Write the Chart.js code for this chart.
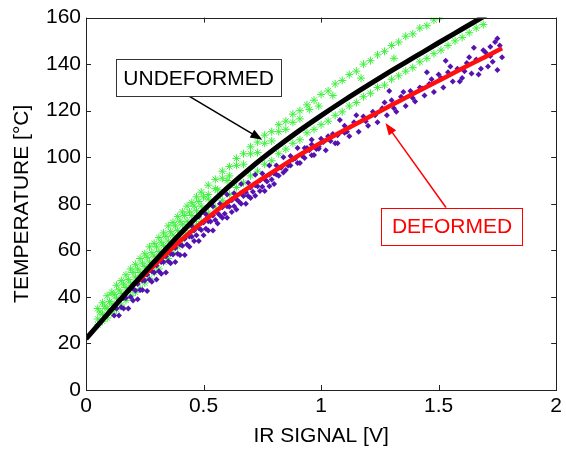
<!DOCTYPE html>
<html>
<head>
<meta charset="utf-8">
<script src="https://cdn.jsdelivr.net/npm/chart.js@4.4.1/dist/chart.umd.min.js"></script>
<style>
  html, body { margin: 0; padding: 0; background: #fff; }
</style>
</head>
<body>
<canvas id="chart" width="566" height="455"></canvas>
<script>
// Fitted curves
const undefFitX = [0, 0.1, 0.2, 0.3, 0.4, 0.5, 0.6, 0.7, 0.8, 0.9, 1.0, 1.1, 1.2, 1.3, 1.4, 1.5, 1.6, 1.7];
const undefFitY = [22, 33.6, 45, 56.2, 67, 77.2, 86.7, 95.4, 103.4, 110.9, 117.9, 124.6, 131, 137.2, 143.2, 149.2, 155.1, 161];
const defFitX = [0.22, 0.3, 0.4, 0.5, 0.6, 0.7, 0.8, 0.9, 1.0, 1.1, 1.2, 1.3, 1.4, 1.5, 1.6, 1.7, 1.77];
const defFitY = [46.5, 54.5, 64, 72.5, 80.5, 87.5, 94, 100.5, 106.2, 111.7, 117.1, 122.4, 127.7, 132.9, 138.1, 143.2, 146.8];

// Measured points, undeformed specimen (green crosses)
const undefUpper = [[0.05,35],[0.07,37.5],[0.09,40.5],[0.11,42],[0.13,45],[0.15,47],[0.17,49.5],[0.19,52],[0.21,54],[0.23,56.5],[0.25,58.5],[0.27,61.5],[0.29,63],[0.31,65.5],[0.33,67.5],[0.35,70.5],[0.37,72],[0.39,74.5],[0.41,76.5],[0.43,79],[0.45,80.5],[0.47,83],[0.49,85],[0.52,88],[0.55,90.5],[0.58,94],[0.61,96],[0.64,99.5],[0.67,101.5],[0.70,104.5],[0.73,106.5],[0.76,109.5],[0.79,111],[0.82,114],[0.85,115.5],[0.88,118.5],[0.91,120],[0.94,122.5],[0.97,124.5],[1.00,127],[1.03,128.5],[1.06,131.5],[1.09,133],[1.12,135.5],[1.15,137],[1.18,140],[1.21,141.5],[1.24,144],[1.27,145.5],[1.30,148],[1.33,149.5],[1.36,152],[1.39,153],[1.42,155.5],[1.45,156.5],[1.48,159],[1.51,160.5]];
const undefInner = [[0.06,33.5],[0.08,36],[0.10,38],[0.12,41],[0.14,43],[0.16,45.5],[0.18,47.5],[0.20,50.5],[0.22,52],[0.24,54.5],[0.26,57],[0.28,59],[0.30,61.5],[0.32,63.5],[0.34,66],[0.36,68],[0.38,70.5],[0.40,72.5],[0.42,75],[0.44,76.5],[0.46,79],[0.48,81],[0.50,83],[0.52,84],[0.55,86.5],[0.58,91],[0.61,92],[0.64,96.5],[0.67,97],[0.70,101.5],[0.73,102],[0.76,106],[0.79,107],[0.82,111],[0.85,112],[0.88,115],[0.91,116.5],[0.95,120.5],[0.99,122],[1.05,126.5],[1.17,134],[1.31,142.5]];
const undefMid = [[0.05,30.5],[0.07,32.5],[0.09,35],[0.11,37],[0.13,39.5],[0.15,41.5],[0.17,44],[0.19,46],[0.21,48.5],[0.23,50.5],[0.25,53],[0.27,55],[0.29,57.5],[0.31,59.5],[0.33,62],[0.35,64],[0.37,66.5],[0.39,68.5],[0.41,71],[0.43,72.5],[0.45,75],[0.47,77],[0.49,79],[0.52,82],[0.56,86],[0.60,90]];
const undefLower = [[0.05,28],[0.07,29.5],[0.09,31],[0.11,33],[0.13,34.5],[0.15,36.5],[0.17,38.5],[0.19,40.5],[0.21,42],[0.23,43.5],[0.25,46],[0.27,48],[0.29,50.5],[0.31,52],[0.33,55],[0.35,56.5],[0.37,59],[0.39,61.5],[0.41,64.5],[0.43,67],[0.45,68.5],[0.47,71],[0.49,72.5],[0.52,76],[0.55,78.5],[0.58,81.5],[0.61,84],[0.64,87],[0.67,89],[0.70,92],[0.73,94],[0.76,97],[0.79,98.5],[0.82,101.5],[0.85,103.5],[0.88,106],[0.91,107.5],[0.94,110.5],[0.97,112],[1.00,114],[1.03,115.5],[1.06,118],[1.09,119.5],[1.12,122],[1.15,123.5],[1.18,126],[1.21,127.5],[1.24,130],[1.27,131],[1.30,133.5],[1.33,135],[1.36,137],[1.39,138.5],[1.42,141],[1.45,142.5],[1.48,144.5],[1.51,146],[1.54,148],[1.57,150],[1.60,151.5],[1.63,153.5],[1.66,155.5],[1.69,157]];

// Measured points, deformed specimen (purple dots)
const defRowA = [[0.12,32],[0.14,32],[0.16,35],[0.18,35],[0.20,38.5],[0.22,39],[0.24,43],[0.26,42.5],[0.28,46.5],[0.30,47.5],[0.32,50],[0.34,50.5],[0.36,54.5],[0.38,55],[0.40,58],[0.42,58],[0.44,61.5],[0.46,64],[0.48,64],[0.50,66.5],[0.52,68.5],[0.54,68.5],[0.56,71.5],[0.58,74],[0.60,74],[0.62,76.5],[0.64,77.5],[0.66,80],[0.68,80],[0.70,82.5],[0.72,83.5],[0.74,85.5],[0.76,85.5],[0.78,87.5],[0.80,88.5]];
const defRowB = [[0.13,35],[0.15,35.5],[0.17,39.5],[0.19,40],[0.21,42.8],[0.23,43],[0.25,47],[0.27,47.5],[0.29,50.5],[0.31,51],[0.33,55],[0.35,55.3],[0.37,58.2],[0.39,58.5],[0.41,62],[0.43,62.5],[0.45,65.8],[0.47,66.5],[0.49,68.7],[0.51,69.3],[0.53,72.4],[0.55,73],[0.57,75],[0.59,75.7],[0.61,78.7],[0.63,79],[0.65,81],[0.67,83.4],[0.69,83.3],[0.71,85.2],[0.73,87.5],[0.75,87.3],[0.77,89.6],[0.79,90.4],[0.81,92.6],[0.84,93.5],[0.87,96.5],[0.90,97.5],[0.93,99.7],[0.96,100.9],[0.99,103.6]];
const defRowC = [[0.12,35.5],[0.14,38.5],[0.16,39.5],[0.18,42.5],[0.20,43.5],[0.22,45.5],[0.24,47],[0.26,49.5],[0.28,51],[0.30,53.5],[0.32,55],[0.34,57.5],[0.36,58.5],[0.38,61],[0.40,62.5],[0.42,65],[0.44,66],[0.46,68.5],[0.48,69.5],[0.50,72],[0.52,72.5],[0.54,75],[0.56,76],[0.58,78.5],[0.60,79],[0.62,81.5],[0.64,82],[0.66,84.5],[0.68,85],[0.70,87],[0.72,88],[0.74,90],[0.76,90.5],[0.78,92.5],[0.80,93],[0.83,95.5],[0.86,96.5],[0.89,99.5],[0.92,100.5],[0.95,103],[0.98,103.5],[1.01,106.5],[1.04,107],[1.07,109.5],[1.10,110.5]];
const defRowD = [[0.45,70.5],[0.48,74.5],[0.51,75.5],[0.54,79],[0.57,80],[0.60,84],[0.63,84.5],[0.66,88.5],[0.69,89],[0.72,92.5],[0.75,93],[0.78,96.5],[0.81,96.5],[0.84,100],[0.87,100.5],[0.90,104],[0.93,104],[0.96,107.5]];
const defHigh = [[0.82,92],[0.85,94.5],[0.88,99],[0.91,97.5],[0.94,104],[0.97,101],[1.00,108],[1.02,103],[1.05,110],[1.07,106],[1.10,113.5],[1.12,109],[1.14,115],[1.16,111],[1.18,117.5],[1.20,113.5],[1.22,119.5],[1.24,115],[1.26,121],[1.28,118],[1.30,124.5],[1.32,119.5],[1.34,126],[1.36,122],[1.38,128.5],[1.40,124],[1.42,130],[1.44,126.5],[1.46,131.5],[1.48,128],[1.50,135.5],[1.52,130],[1.54,136.5],[1.56,132.5],[1.58,138],[1.60,134],[1.62,140.5],[1.64,136],[1.66,142],[1.68,138],[1.70,145],[1.71,139],[1.72,147.5],[1.73,141],[1.74,149.5],[1.75,137.5],[1.76,148],[1.77,143],[1.75,151],[1.72,143.5],[1.69,146],[1.67,135.5],[1.63,143],[1.59,132.5],[1.55,139],[1.51,134],[1.47,133.5],[1.43,129.5],[1.39,125.5],[1.35,128],[1.31,121],[1.27,123.5],[1.23,118],[1.19,115.5],[1.15,118],[1.11,111],[1.06,106],[1.03,109],[0.99,104.5],[0.96,105.5],[0.92,101.5],[1.08,116],[1.29,128.5],[1.53,141.5],[1.61,137],[1.65,147],[1.45,136.5]];

const xTicks = [0, 0.5, 1, 1.5, 2];
const yTicks = [0, 20, 40, 60, 80, 100, 120, 140, 160];

const FONT = 'Liberation Sans, Arial, sans-serif';
const GREEN = '#3cf03c';
const PURPLE = '#5412b0';

function toPoints(xs, ys) {
    return xs.map((x, i) => ({ x: x, y: ys[i] }));
}
function pairs(...lists) {
    const out = [];
    lists.forEach(list => list.forEach(p => out.push({ x: p[0], y: p[1] })));
    return out;
}

// Arrow with a filled head, pixel coords
function arrow(ctx, x0, y0, x1, y1, color) {
    const ang = Math.atan2(y1 - y0, x1 - x0);
    const len = 12, w = 4.5;
    ctx.save();
    ctx.strokeStyle = color;
    ctx.fillStyle = color;
    ctx.lineWidth = 1.5;
    ctx.beginPath();
    ctx.moveTo(x0, y0);
    ctx.lineTo(x1 - Math.cos(ang) * len * 0.8, y1 - Math.sin(ang) * len * 0.8);
    ctx.stroke();
    ctx.beginPath();
    ctx.moveTo(x1, y1);
    ctx.lineTo(x1 - Math.cos(ang) * len - Math.sin(ang) * w, y1 - Math.sin(ang) * len + Math.cos(ang) * w);
    ctx.lineTo(x1 - Math.cos(ang) * len + Math.sin(ang) * w, y1 - Math.sin(ang) * len - Math.cos(ang) * w);
    ctx.closePath();
    ctx.fill();
    ctx.restore();
}

function labelBox(ctx, sx, sy, x0, y0, x1, y1, text, color) {
    const l = sx.getPixelForValue(x0), r = sx.getPixelForValue(x1);
    const t = sy.getPixelForValue(y0), b = sy.getPixelForValue(y1);
    ctx.save();
    ctx.fillStyle = '#fff';
    ctx.fillRect(l, t, r - l, b - t);
    ctx.strokeStyle = color === '#000' ? '#333' : color;
    ctx.lineWidth = 1;
    ctx.strokeRect(Math.round(l) + 0.5, Math.round(t) + 0.5, Math.round(r - l), Math.round(b - t));
    ctx.fillStyle = color;
    ctx.font = '21px ' + FONT;
    ctx.textAlign = 'center';
    ctx.textBaseline = 'middle';
    ctx.fillText(text, (l + r) / 2, (t + b) / 2 + 1);
    ctx.restore();
}

// Box, inward ticks on all four sides, and the two callouts
const framePlugin = {
    id: 'frame',
    afterDraw(chart) {
        const ctx = chart.ctx;
        const a = chart.chartArea;
        const sx = chart.scales.x, sy = chart.scales.y;
        ctx.save();
        ctx.strokeStyle = '#222';
        ctx.lineWidth = 1;
        ctx.strokeRect(Math.round(a.left) + 0.5, Math.round(a.top) + 0.5, Math.round(a.right - a.left), Math.round(a.bottom - a.top));
        ctx.beginPath();
        xTicks.forEach(v => {
            const px = Math.round(sx.getPixelForValue(v)) + 0.5;
            ctx.moveTo(px, a.bottom); ctx.lineTo(px, a.bottom - 5);
            ctx.moveTo(px, a.top); ctx.lineTo(px, a.top + 5);
        });
        yTicks.forEach(v => {
            const py = Math.round(sy.getPixelForValue(v)) + 0.5;
            ctx.moveTo(a.left, py); ctx.lineTo(a.left + 5, py);
            ctx.moveTo(a.right, py); ctx.lineTo(a.right - 5, py);
        });
        ctx.stroke();
        ctx.restore();

        arrow(ctx, sx.getPixelForValue(0.44), sy.getPixelForValue(126.2),
              sx.getPixelForValue(0.75), sy.getPixelForValue(107.5), '#000');
        labelBox(ctx, sx, sy, 0.127, 142, 0.831, 126.2, 'UNDEFORMED', '#000');
        arrow(ctx, sx.getPixelForValue(1.532), sy.getPixelForValue(78.3),
              sx.getPixelForValue(1.274), sy.getPixelForValue(114.7), '#ff0000');
        labelBox(ctx, sx, sy, 1.257, 78.3, 1.857, 62.5, 'DEFORMED', '#ff0000');
    }
};

const ctx = document.getElementById('chart').getContext('2d');
new Chart(ctx, {
    type: 'scatter',
    data: {
        datasets: [
            {
                data: toPoints(undefFitX, undefFitY),
                showLine: true, borderColor: '#000', borderWidth: 5,
                pointRadius: 0, cubicInterpolationMode: 'monotone'
            },
            {
                data: toPoints(defFitX, defFitY),
                showLine: true, borderColor: '#ff1010', borderWidth: 4.5,
                pointRadius: 0, cubicInterpolationMode: 'monotone'
            },
            {
                data: pairs(defRowA, defRowB, defRowC, defRowD, defHigh),
                pointStyle: 'rectRot', pointRadius: 3, borderWidth: 0,
                backgroundColor: PURPLE, borderColor: PURPLE
            },
            {
                data: pairs(undefUpper, undefInner, undefMid, undefLower),
                pointStyle: 'star', pointRadius: 4, borderWidth: 1,
                borderColor: GREEN, backgroundColor: GREEN
            }
        ]
    },
    options: {
        responsive: false,
        animation: false,
        devicePixelRatio: 1,
        layout: { padding: { top: 16, right: 6, left: 0, bottom: 0 } },
        plugins: { legend: { display: false }, tooltip: { enabled: false } },
        scales: {
            x: {
                type: 'linear', min: 0, max: 2,
                grid: { display: false, drawTicks: false },
                border: { display: false },
                afterBuildTicks: s => { s.ticks = xTicks.map(v => ({ value: v })); },
                afterFit: s => { s.height = 65; },
                ticks: { color: '#000', font: { family: FONT, size: 21 }, padding: 4,
                         maxRotation: 0, callback: v => String(v) },
                title: { display: true, text: 'IR SIGNAL [V]', color: '#000',
                         font: { family: FONT, size: 21 }, padding: { top: 0, bottom: 6 } }
            },
            y: {
                type: 'linear', min: 0, max: 160,
                grid: { display: false, drawTicks: false },
                border: { display: false },
                afterBuildTicks: s => { s.ticks = yTicks.map(v => ({ value: v })); },
                afterFit: s => { s.width = 86; },
                ticks: { color: '#000', font: { family: FONT, size: 21 }, padding: 5 },
                title: { display: true, text: 'TEMPERATURE [°C]', color: '#000',
                         font: { family: FONT, size: 21 }, padding: { top: 10, bottom: 0 } }
            }
        }
    },
    plugins: [framePlugin]
});
</script>
</body>
</html>
